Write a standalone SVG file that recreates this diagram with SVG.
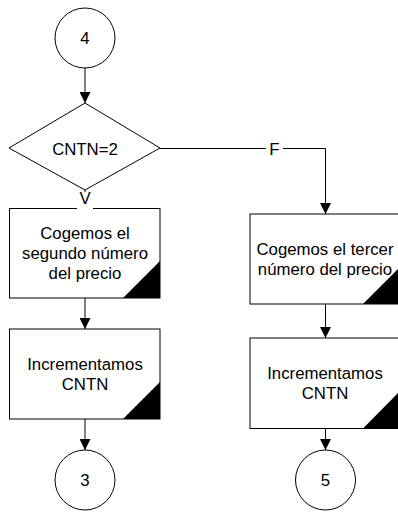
<svg xmlns="http://www.w3.org/2000/svg" width="398" height="512" viewBox="0 0 398 512">
<defs>
<style>
.s{fill:#fff;stroke:#000;stroke-width:1}
.c{fill:none;stroke:#000;stroke-width:1}
.t{font-family:"Liberation Sans",Arial,sans-serif;font-size:16.8px;fill:#000;text-anchor:middle}
.k{fill:#000;stroke:none}
</style>
<marker id="ah" markerWidth="11" markerHeight="11" refX="11" refY="5.5" orient="auto" markerUnits="userSpaceOnUse">
<path d="M0,0 L11,5.5 L0,11 Z" fill="#000"/>
</marker>
</defs>
<rect width="398" height="512" fill="#fff"/>
<g id="connectors">
<line class="c" x1="85" y1="68" x2="85" y2="103" marker-end="url(#ah)"/>
<line class="c" x1="85" y1="190" x2="85" y2="208.5"/>
<polyline class="c" points="160,148.5 325.5,148.5 325.5,214" marker-end="url(#ah)"/>
<line class="c" x1="85" y1="298" x2="85" y2="329" marker-end="url(#ah)"/>
<line class="c" x1="85" y1="419" x2="85" y2="450" marker-end="url(#ah)"/>
<line class="c" x1="325.5" y1="304" x2="325.5" y2="338" marker-end="url(#ah)"/>
<line class="c" x1="325.5" y1="428" x2="325.5" y2="450" marker-end="url(#ah)"/>
</g>
<g id="n4">
<circle class="s" cx="85" cy="38" r="30"/>
<text class="t" x="85" y="43.5">4</text>
</g>
<g id="dec">
<polygon class="s" points="85,103 160,148 85,190 9,148"/>
<text class="t" x="85" y="155">CNTN=2</text>
</g>
<g id="b1">
<rect class="s" x="9.5" y="208.5" width="150.5" height="89.5"/>
<polygon class="k" points="123,298 160,261 160,298"/>
<text class="t" x="85" y="239">Cogemos el</text>
<text class="t" x="85" y="259">segundo número</text>
<text class="t" x="85" y="279">del precio</text>
</g>
<g id="lblV">
<rect x="77" y="192" width="16" height="18" fill="#fff"/>
<text class="t" x="85" y="204">V</text>
</g>
<g id="lblF">
<rect x="266" y="140" width="17" height="17" fill="#fff"/>
<text class="t" x="274.5" y="154.5">F</text>
</g>
<g id="b2">
<rect class="s" x="9.5" y="329" width="150.5" height="90"/>
<polygon class="k" points="123,419 160,382 160,419"/>
<text class="t" x="85" y="370">Incrementamos</text>
<text class="t" x="85" y="390">CNTN</text>
</g>
<g id="b3">
<rect class="s" x="250" y="214" width="150" height="90"/>
<polygon class="k" points="363,304 399,268 399,304"/>
<text class="t" x="325" y="254.5">Cogemos el tercer</text>
<text class="t" x="325" y="274.5">número del precio</text>
</g>
<g id="b4">
<rect class="s" x="250" y="338" width="150" height="90.5"/>
<polygon class="k" points="363,428.5 399,392 399,428.5"/>
<text class="t" x="325" y="379">Incrementamos</text>
<text class="t" x="325" y="398.5">CNTN</text>
</g>
<g id="n3">
<circle class="s" cx="85" cy="480" r="30"/>
<text class="t" x="85" y="486">3</text>
</g>
<g id="n5">
<circle class="s" cx="325.5" cy="480" r="30"/>
<text class="t" x="325.5" y="486">5</text>
</g>
</svg>
